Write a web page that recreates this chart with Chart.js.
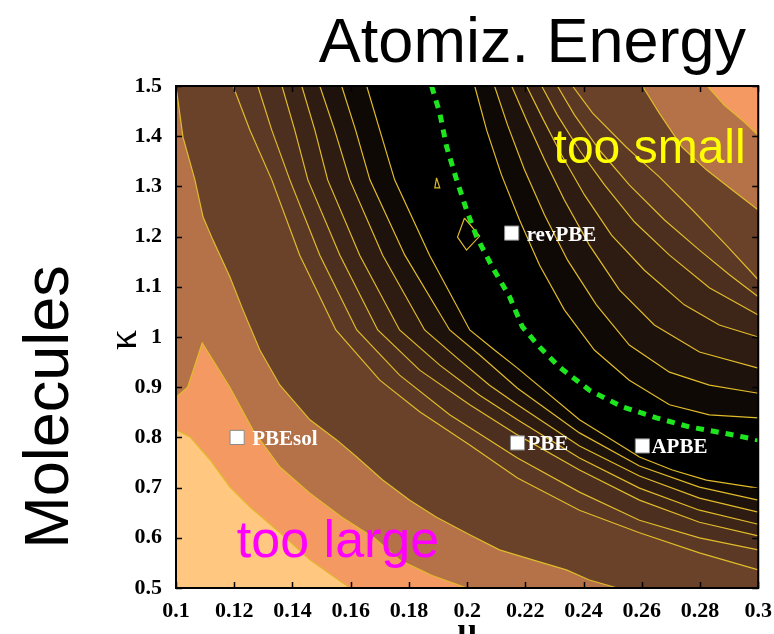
<!DOCTYPE html>
<html>
<head>
<meta charset="utf-8">
<script src="https://cdn.jsdelivr.net/npm/chart.js@4.4.1/dist/chart.umd.min.js"></script>
<style>
  html, body { margin: 0; padding: 0; background: #fff; }
</style>
</head>
<body>
<canvas id="atomiz" width="774" height="634"></canvas>
<script>
// axis ticks
const xTicks = [0.1, 0.12, 0.14, 0.16, 0.18, 0.2, 0.22, 0.24, 0.26, 0.28, 0.3];
const xTickLabels = ['0.1', '0.12', '0.14', '0.16', '0.18', '0.2', '0.22', '0.24', '0.26', '0.28', '0.3'];
const yTicks = [0.5, 0.6, 0.7, 0.8, 0.9, 1, 1.1, 1.2, 1.3, 1.4, 1.5];
const yTickLabels = ['0.5', '0.6', '0.7', '0.8', '0.9', '1', '1.1', '1.2', '1.3', '1.4', '1.5'];

// contour lines, [mu, kappa]
// lower-left side, from the corner towards the valley
const c1 = [[0.1, 0.815], [0.1048, 0.801], [0.1117, 0.755], [0.1185, 0.701], [0.1254, 0.661], [0.1357, 0.61], [0.146, 0.556], [0.1597, 0.5]];
const c2 = [[0.1, 0.88], [0.104, 0.9], [0.109, 0.988], [0.1185, 0.9], [0.1264, 0.815], [0.1357, 0.741], [0.146, 0.689], [0.157, 0.641], [0.168, 0.6], [0.177, 0.555], [0.188, 0.525], [0.2, 0.5]];
const c3 = [[0.1, 1.5], [0.1024, 1.398], [0.1065, 1.313], [0.1093, 1.239], [0.1127, 1.193], [0.1185, 1.12], [0.123, 1.054], [0.1288, 0.974], [0.1357, 0.904], [0.146, 0.835], [0.1552, 0.795], [0.1621, 0.761], [0.171, 0.715], [0.1803, 0.675], [0.1895, 0.641], [0.2009, 0.606], [0.2111, 0.576], [0.2225, 0.556], [0.2341, 0.536], [0.242, 0.516], [0.2516, 0.5]];
const d1 = [[0.1, 1.5], [0.1196, 1.5], [0.1254, 1.412], [0.1329, 1.313], [0.1425, 1.163], [0.1549, 1.014], [0.17, 0.914], [0.1837, 0.851], [0.2009, 0.785], [0.2173, 0.719], [0.2386, 0.655], [0.2592, 0.61], [0.2798, 0.57], [0.3, 0.536]];
const d2 = [[0.1, 1.5], [0.1281, 1.5], [0.1329, 1.412], [0.1391, 1.313], [0.1494, 1.163], [0.1621, 1.014], [0.1768, 0.924], [0.194, 0.845], [0.2173, 0.759], [0.2386, 0.691], [0.2592, 0.635], [0.2798, 0.6], [0.3, 0.576]];
const d3 = [[0.1, 1.5], [0.1364, 1.5], [0.1408, 1.412], [0.1453, 1.313], [0.1563, 1.163], [0.1693, 1.014], [0.1837, 0.934], [0.2009, 0.865], [0.2173, 0.805], [0.2386, 0.735], [0.2592, 0.675], [0.2798, 0.631], [0.3, 0.604]];
const d4 = [[0.1, 1.5], [0.1432, 1.5], [0.1477, 1.412], [0.1521, 1.313], [0.1631, 1.163], [0.1768, 1.014], [0.1906, 0.944], [0.2043, 0.884], [0.2173, 0.835], [0.2386, 0.759], [0.2592, 0.699], [0.2798, 0.655], [0.3, 0.627]];
const d5 = [[0.1, 1.5], [0.1494, 1.5], [0.1545, 1.412], [0.1597, 1.313], [0.171, 1.163], [0.1854, 1.014], [0.1974, 0.954], [0.2077, 0.904], [0.2173, 0.865], [0.2386, 0.783], [0.2592, 0.723], [0.2798, 0.679], [0.3, 0.651]];
const d6 = [[0.1, 1.5], [0.1569, 1.5], [0.1617, 1.412], [0.1666, 1.313], [0.1786, 1.163], [0.194, 1.014], [0.2043, 0.964], [0.2173, 0.898], [0.2386, 0.809], [0.2592, 0.743], [0.2798, 0.701], [0.3, 0.675]];
const d7 = [[0.1, 1.5], [0.1655, 1.5], [0.17, 1.412], [0.1751, 1.313], [0.1871, 1.163], [0.2009, 1.014], [0.2094, 0.974], [0.2173, 0.938], [0.2386, 0.835], [0.2592, 0.761], [0.2705, 0.735], [0.2822, 0.715], [0.3, 0.699]];
// upper-right side, from the corner towards the valley
const e2 = [[0.2825, 1.5], [0.2883, 1.462], [0.2952, 1.428], [0.3, 1.402]];
const e3 = [[0.2602, 1.5], [0.266, 1.446], [0.2739, 1.378], [0.2822, 1.333], [0.2911, 1.293], [0.3, 1.253]];
const r1 = [[0.2362, 1.5], [0.2431, 1.446], [0.2547, 1.378], [0.266, 1.319], [0.2774, 1.253], [0.289, 1.183], [0.3, 1.114]];
const r2 = [[0.231, 1.5], [0.2369, 1.442], [0.2455, 1.372], [0.2557, 1.303], [0.2678, 1.233], [0.2798, 1.173], [0.2901, 1.124], [0.3, 1.08]];
const r3 = [[0.2256, 1.5], [0.231, 1.442], [0.2386, 1.372], [0.2472, 1.303], [0.2575, 1.229], [0.2695, 1.163], [0.2832, 1.098], [0.3, 1.044]];
const r4 = [[0.2204, 1.5], [0.2259, 1.436], [0.2324, 1.363], [0.2403, 1.283], [0.2496, 1.203], [0.2609, 1.133], [0.2746, 1.064], [0.2866, 1.024], [0.3, 1.0]];
const r5 = [[0.2153, 1.5], [0.2204, 1.432], [0.2266, 1.353], [0.2334, 1.273], [0.242, 1.183], [0.2523, 1.094], [0.2643, 1.024], [0.2798, 0.97], [0.3, 0.938]];
const r6 = [[0.2094, 1.5], [0.2139, 1.422], [0.2197, 1.333], [0.2266, 1.243], [0.2345, 1.153], [0.2444, 1.064], [0.2557, 0.984], [0.2695, 0.93], [0.2832, 0.904], [0.3, 0.888]];
const r7 = [[0.2026, 1.5], [0.2067, 1.412], [0.2118, 1.323], [0.218, 1.233], [0.2249, 1.143], [0.2334, 1.054], [0.2437, 0.974], [0.2557, 0.914], [0.2695, 0.865], [0.2832, 0.845], [0.3, 0.839]];
// small closed islands inside the valley
const islandA = [[0.1991, 1.237], [0.1967, 1.199], [0.1998, 1.173], [0.2043, 1.201], [0.1991, 1.237]];
const islandB = [[0.1895, 1.317], [0.1889, 1.297], [0.1906, 1.297], [0.1895, 1.317]];

// fitted minimum line (green dashes)
const valley = [[0.1878, 1.5], [0.1906, 1.446], [0.193, 1.378], [0.1964, 1.313], [0.1998, 1.253], [0.2033, 1.199], [0.2087, 1.139], [0.2146, 1.08], [0.219, 1.02], [0.2249, 0.98], [0.2317, 0.94], [0.242, 0.894], [0.2533, 0.861], [0.265, 0.839], [0.2763, 0.821], [0.2876, 0.809], [0.3, 0.795]];

// functionals
const funcNames = ['PBEsol', 'revPBE', 'PBE', 'APBE'];
const funcMu = [0.121, 0.2153, 0.2173, 0.2602];
const funcKappa = [0.8, 1.207, 0.789, 0.783];

// copper colormap steps, light to black
const copper = ['#ffc77f', '#f59962', '#b57148', '#6a422a', '#5b3924', '#4c2f1e', '#3d2618', '#2e1c12', '#1e130c', '#0f0906', '#000000'];
const lineYellow = '#e0bb2a';

function pts(arr) {
  return arr.map(p => ({ x: p[0], y: p[1] }));
}

function band(line, level, side, order) {
  return {
    data: pts(line),
    borderColor: lineYellow,
    borderWidth: 1.2,
    backgroundColor: copper[level],
    fill: side,
    pointRadius: 0,
    order: order,
    clip: 0
  };
}

const lower = [c1, c2, c3, d1, d2, d3, d4, d5, d6, d7];
const upper = [e2, e3, r1, r2, r3, r4, r5, r6, r7];

const datasets = [];
lower.forEach((l, i) => datasets.push(band(l, i, 'start', i + 1)));
upper.forEach((l, i) => datasets.push(band(l, i + 1, 'end', i + 1)));
[islandA, islandB].forEach(l => datasets.push({
  data: pts(l), borderColor: lineYellow, borderWidth: 1.2, fill: false, pointRadius: 0, order: 0, clip: 0
}));
datasets.push({
  data: pts(valley),
  borderColor: '#1ee61e',
  borderWidth: 5,
  borderDash: [8, 7],
  fill: false,
  pointRadius: 0,
  order: -1,
  clip: 0
});
datasets.push({
  data: funcMu.map((m, i) => ({ x: m, y: funcKappa[i] })),
  showLine: false,
  pointStyle: 'rect',
  pointRadius: 10,
  backgroundColor: '#ffffff',
  borderColor: '#8a8a8a',
  borderWidth: 1,
  order: -2,
  clip: false
});

const labelGap = { PBEsol: 15, revPBE: 15, PBE: 10, APBE: 9 };

const decor = {
  id: 'decor',
  beforeDatasetsDraw(chart) {
    const { ctx, chartArea: a } = chart;
    ctx.save();
    ctx.fillStyle = '#000';
    ctx.fillRect(a.left, a.top, a.right - a.left, a.bottom - a.top);
    ctx.restore();
  },
  afterDatasetsDraw(chart) {
    const { ctx } = chart;
    const meta = chart.getDatasetMeta(chart.data.datasets.length - 1);
    ctx.save();
    ctx.font = 'bold 21px "Liberation Serif"';
    ctx.fillStyle = '#fff';
    ctx.textBaseline = 'middle';
    meta.data.forEach((p, i) => {
      ctx.fillText(funcNames[i], p.x + labelGap[funcNames[i]], p.y + 2);
    });
    const xs = chart.scales.x, ys = chart.scales.y;
    ctx.textBaseline = 'alphabetic';
    ctx.font = '48px "Liberation Sans"';
    ctx.fillStyle = '#ffff00';
    ctx.fillText('too small', xs.getPixelForValue(0.2297), ys.getPixelForValue(1.347));
    ctx.font = '52px "Liberation Sans"';
    ctx.fillStyle = '#ff00ff';
    ctx.fillText('too large', xs.getPixelForValue(0.1209), ys.getPixelForValue(0.562));
    ctx.restore();
  },
  afterDraw(chart) {
    const { ctx, chartArea: a } = chart;
    const xs = chart.scales.x, ys = chart.scales.y;
    ctx.save();
    ctx.strokeStyle = '#000';
    ctx.lineWidth = 2;
    ctx.strokeRect(a.left, a.top, a.right - a.left, a.bottom - a.top);
    ctx.lineWidth = 1.5;
    ctx.beginPath();
    xTicks.forEach(v => {
      const px = Math.round(xs.getPixelForValue(v)) + 0.5;
      ctx.moveTo(px, a.bottom); ctx.lineTo(px, a.bottom - 6);
      ctx.moveTo(px, a.top); ctx.lineTo(px, a.top + 6);
    });
    yTicks.forEach(v => {
      const py = Math.round(ys.getPixelForValue(v)) + 0.5;
      ctx.moveTo(a.left, py); ctx.lineTo(a.left + 6, py);
      ctx.moveTo(a.right, py); ctx.lineTo(a.right - 6, py);
    });
    ctx.stroke();

    ctx.fillStyle = '#000';
    ctx.font = '63px "Liberation Sans"';
    ctx.textAlign = 'right';
    ctx.fillText('Atomiz. Energy', 746, 62);

    ctx.save();
    ctx.translate(68, 407);
    ctx.rotate(-Math.PI / 2);
    ctx.textAlign = 'center';
    ctx.fillText('Molecules', 0, 0);
    ctx.restore();

    ctx.save();
    ctx.translate(136, 340);
    ctx.rotate(-Math.PI / 2);
    ctx.textAlign = 'center';
    ctx.font = '40px "Liberation Serif"';
    ctx.fillText('\u03ba', 0, 0);
    ctx.restore();

    ctx.textAlign = 'center';
    ctx.font = 'bold 34px "Liberation Serif"';
    ctx.fillText('\u03bc', (a.left + a.right) / 2, 641);
    ctx.restore();
  }
};

const tickFont = { family: 'Liberation Serif', size: 22, weight: 'bold' };

new Chart(document.getElementById('atomiz'), {
  type: 'line',
  data: { datasets },
  options: {
    responsive: false,
    devicePixelRatio: 1,
    animation: false,
    events: [],
    layout: { padding: { top: 86, right: 15, left: 0, bottom: 0 } },
    scales: {
      x: {
        type: 'linear',
        min: 0.1,
        max: 0.3,
        grid: { display: false },
        border: { display: false },
        afterBuildTicks: s => { s.ticks = xTicks.map(v => ({ value: v })); },
        afterFit: s => { s.height = 46; },
        ticks: {
          font: tickFont,
          color: '#000',
          padding: 2,
          autoSkip: false,
          maxRotation: 0,
          callback: (v, i) => xTickLabels[i]
        }
      },
      y: {
        type: 'linear',
        min: 0.5,
        max: 1.5,
        grid: { display: false },
        border: { display: false },
        afterBuildTicks: s => { s.ticks = yTicks.map(v => ({ value: v })); },
        afterFit: s => { s.width = 176; },
        ticks: {
          font: tickFont,
          color: '#000',
          padding: 6,
          autoSkip: false,
          callback: (v, i) => yTickLabels[i]
        }
      }
    },
    plugins: {
      legend: { display: false },
      tooltip: { enabled: false }
    }
  },
  plugins: [decor]
});
</script>
</body>
</html>
